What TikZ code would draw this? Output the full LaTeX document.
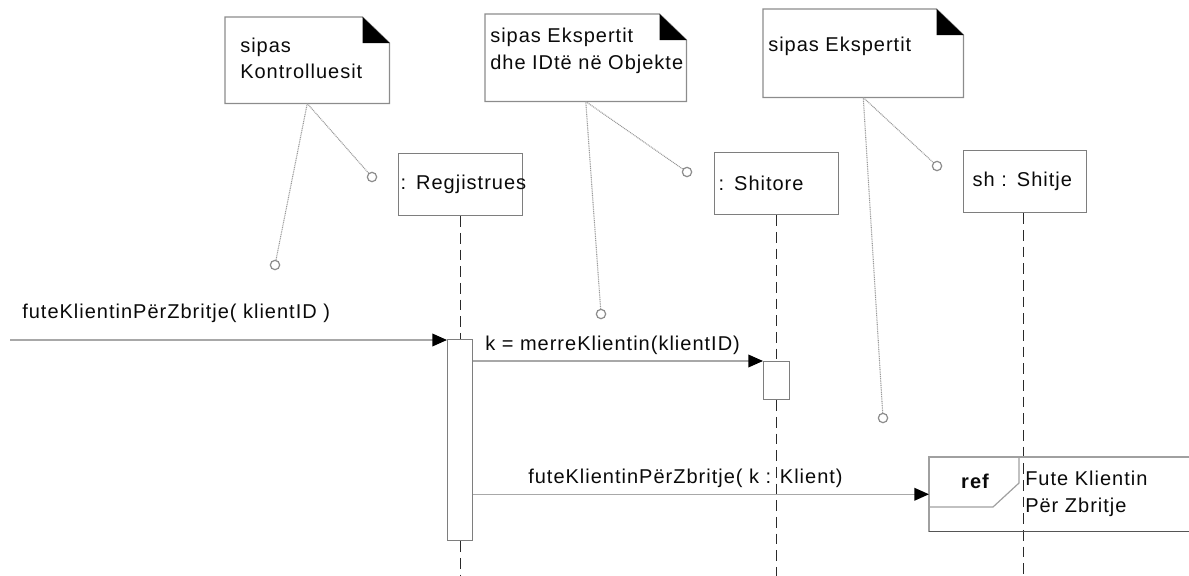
\documentclass[tikz,border=0pt]{standalone}
\usepackage{fontspec}
\setmainfont{Liberation Sans}[LetterSpace=5]
\usetikzlibrary{arrows.meta,calc}
\definecolor{ink}{HTML}{0A0A0A}
\definecolor{boxline}{HTML}{7E7E7E}
\definecolor{msgline}{HTML}{A8A8A8}
\definecolor{noteline}{HTML}{8C8C8C}
\definecolor{dotline}{HTML}{9A9A9A}
\definecolor{lifeink}{HTML}{2A2A2A}
\definecolor{framegray}{HTML}{A0A0A0}
\definecolor{framedark}{HTML}{555555}

\begin{document}
\begin{tikzpicture}[x=0.75pt,y=-0.75pt,
  every node/.style={text=ink, font=\fontsize{15}{20}\selectfont},
  txt/.style={inner sep=0pt, anchor=west, align=left},
  notebox/.style={draw=none, inner sep=0pt, anchor=north west},
  noteedge/.style={draw=noteline, line width=0.9pt},
  lifebox/.style={draw=boxline, line width=0.9pt, fill=white, anchor=north west,
    minimum height=46.5pt, inner ysep=0pt, align=left},
  actbox/.style={draw=boxline, line width=0.9pt, fill=white, anchor=north west, inner sep=0pt},
  lifeline/.style={draw=lifeink, line width=0.9pt, dash pattern=on 8pt off 4.5pt},
  msg/.style={draw=msgline, line width=1.1pt,
    -{Triangle[length=11pt,width=9.5pt,color=black]}},
  notelink/.style={draw=dotline, line width=0.8pt, dash pattern=on 0.75pt off 0.6pt},
  pincircle/.style={circle, draw=noteline, line width=0.9pt, fill=white,
    minimum size=7pt, inner sep=0pt},
]
\useasboundingbox (0,0) rectangle (1189,575);
\coordinate (bottom) at (0,578);

% comment notes with a folded corner
\node[notebox, minimum width=123pt, minimum height=64.5pt] (n1) at (225,17) {};
\node[notebox, minimum width=150.75pt, minimum height=65.25pt] (n2) at (485,14) {};
\node[notebox, minimum width=150pt, minimum height=66pt] (n3) at (763,9) {};
\foreach \n in {n1,n2,n3} {
  \draw[noteedge] (\n.north west) -- ($(\n.north east)+(-27,0)$)
    -- ($(\n.north east)+(0,26)$) -- (\n.south east) -- (\n.south west) -- cycle;
  \fill[black] ($(\n.north east)+(-27,0)$) -- ($(\n.north east)+(-27,26)$)
    -- ($(\n.north east)+(0,26)$) -- cycle;
}
\node[txt] (n1t) at (240,58.5) {sipas\\Kontrolluesit};
\node[txt] (n2t) at (490,51) {sipas Ekspertit\\dhe IDtë në Objekte};
\node[txt] (n3t) at (768,46) {sipas Ekspertit};

% object heads
\node[lifebox, text width=90pt, inner xsep=1.5pt] (reg) at (398,153) {\mbox{: Regjistrues}};
\node[lifebox, text width=87pt, inner xsep=3pt] (shi) at (714,152) {\mbox{: Shitore}};
\node[lifebox, text width=78.75pt, inner xsep=6.75pt] (sh) at (963,150) {\mbox{sh : Shitje}};

% activation bars
\node[actbox, minimum width=18.75pt, minimum height=150.75pt] (act1) at (447,339) {};
\node[actbox, minimum width=19.5pt, minimum height=28.5pt] (act2) at (763,361) {};

% lifelines
\draw[lifeline] (act1.north |- reg.south) -- (act1.north);
\draw[lifeline] (act1.south) -- (act1.south |- bottom);
\draw[lifeline] (shi.south) -- (act2.north);
\draw[lifeline] (act2.south) -- (act2.south |- bottom);
\coordinate (shx) at (1023.5,0);
\draw[lifeline] (shx |- sh.south) -- (shx |- bottom);

% interaction reference frame
\node[draw=none, inner sep=0pt, anchor=north west, minimum width=195pt, minimum height=55.5pt] (refbox) at (929,457) {};
\draw[framegray, line width=0.9pt] (refbox.north east) -- (refbox.north west) -- (refbox.south west);
\draw[framedark, line width=1.4pt] (refbox.south west) -- (refbox.south east);
\draw[framegray, line width=0.9pt] ($(refbox.north west)+(90,0)$) -- ($(refbox.north west)+(90,26)$)
  -- ($(refbox.north west)+(64,50)$) -- ($(refbox.north west)+(0,50)$);
\node[inner sep=0pt, font=\fontsize{15}{20}\selectfont\bfseries] (reftag) at (975,481) {ref};
\node[txt] (reftext) at (1025,494) {Fute Klientin\\Për Zbritje};

% messages
\coordinate (src) at (10,340);
\draw[msg] (src) -- (src -| act1.west);
\node[txt] (m1) at (22,313) {futeKlientinPërZbritje( klientID )};
\draw[msg] (act1.east |- act2.north west) -- (act2.north west);
\node[txt] (m2) at (485,345) {k = merreKlientin(klientID)};
\draw[msg] (act1.east |- refbox.west) -- (refbox.west);
\node[txt] (m3) at (528,478) {futeKlientinPërZbritje( k : Klient)};

% note anchors
\node[pincircle] (c1a) at (372,177) {};
\node[pincircle] (c1b) at (275,265) {};
\node[pincircle] (c2a) at (687,172) {};
\node[pincircle] (c2b) at (601,314) {};
\node[pincircle] (c3a) at (937,166) {};
\node[pincircle] (c3b) at (883,418) {};
\draw[notelink] (n1.south) -- (c1a);
\draw[notelink] (n1.south) -- (c1b);
\draw[notelink] (n2.south) -- (c2a);
\draw[notelink] (n2.south) -- (c2b);
\draw[notelink] (n3.south) -- (c3a);
\draw[notelink] (n3.south) -- (c3b);
\end{tikzpicture}
\end{document}
